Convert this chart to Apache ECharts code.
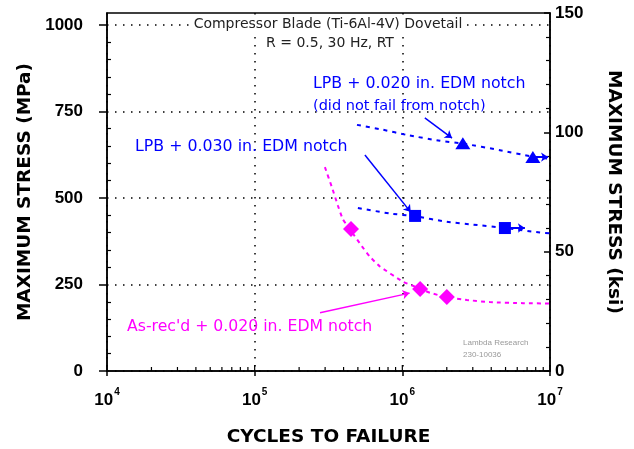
<!DOCTYPE html>
<html>
<head>
<meta charset="utf-8">
<script src="https://cdn.jsdelivr.net/npm/echarts@6/dist/echarts.min.js"></script>
<style>html,body{margin:0;padding:0;background:#fff}#c{width:634px;height:449px}</style>
</head>
<body>
<div id="c"></div>
<script>
// ---- data (cycles to failure, maximum stress in MPa) ----
const decades = [1e4, 1e5, 1e6, 1e7];
const mpaTicks = [0, 250, 500, 750, 1000];
const ksiTicks = [0, 50, 100, 150];

// As-rec'd + 0.020 in. EDM notch
const asrecCycles = [4.49e5, 1.32e6, 2.0e6];
const asrecMPa = [410, 237, 214];
const asrecFitCycles = [2.99e5, 3.34e5, 3.66e5, 3.96e5, 4.49e5, 5.33e5, 6.04e5, 7.05e5, 1.01e6, 1.32e6, 1.54e6, 2.0e6, 2.74e6, 3.92e6, 6.56e6, 1.0e7];
const asrecFitMPa = [589, 530, 478, 438, 405, 360, 330, 302, 258, 238, 226, 213, 205, 199, 196, 195];

// LPB + 0.030 in. EDM notch
const lpb30Cycles = [1.22e6, 4.95e6];
const lpb30MPa = [448, 413];
const lpb30FitCycles = [5.0e5, 8.24e5, 1.22e6, 2.0e6, 3.0e6, 4.95e6, 8.55e6, 1.0e7];
const lpb30FitMPa = [471, 455, 447, 431, 423, 413, 400, 398];

// LPB + 0.020 in. EDM notch (did not fail from notch)
const lpb20Cycles = [2.57e6, 7.66e6];
const lpb20MPa = [658, 618];
const lpb20FitCycles = [4.93e5, 7.39e5, 1.07e6, 1.80e6, 2.57e6, 4.58e6, 7.66e6, 1.0e7];
const lpb20FitMPa = [711, 697, 682, 665, 657, 638, 619, 613];

// run-out arrows (start and end cycles at the run-out stress)
const runoutFrom = [[4.95e6, 413], [7.66e6, 618]];
const runoutTo = [[6.76e6, 413], [9.7e6, 618]];

// leader lines from labels to points
const leaderFrom = [[1.42e6, 731], [5.58e5, 624], [2.77e5, 168]];
const leaderTo = [[2.17e6, 673], [1.14e6, 459], [1.12e6, 225]];

const KSI_TO_MPA = 6.894757;

// ---- helpers ----
const zip = (a, b) => a.map((v, i) => [v, b[i]]);
const BLUE = '#0000ff', MAG = '#ff00ff';
const ARIAL = '"Liberation Sans", Arial, sans-serif';
const WIDE = '"DejaVu Sans", Verdana, sans-serif';

const minorX = [];
decades.slice(0, -1).forEach(d => { for (let k = 2; k <= 9; k++) minorX.push(k * d); });
const xTickData = decades.map(v => [v, 0, 1]).concat(minorX.map(v => [v, 0, 0]));
const mpaMinor = [];
for (let v = 50; v < 1000; v += 50) if (v % 250 !== 0) mpaMinor.push(v);

const chart = echarts.init(document.getElementById('c'), null, {renderer: 'canvas'});
const axisLineStyle = {color: '#000', width: 1.5};

const option = {
  animation: false,
  backgroundColor: '#fff',
  grid: {left: 107, right: 84, top: 13, bottom: 78, show: true, borderColor: '#000', borderWidth: 1.5,
    containLabel: false, outerBoundsMode: 'none'},
  xAxis: {
    type: 'log', logBase: 10, min: decades[0], max: decades[decades.length - 1],
    name: 'CYCLES TO FAILURE', nameLocation: 'middle', nameGap: 57,
    nameTextStyle: {fontFamily: WIDE, fontWeight: 'bold', fontSize: 18.5, color: '#000'},
    axisLine: {lineStyle: axisLineStyle},
    axisTick: {show: true, inside: false, length: 5, lineStyle: axisLineStyle},
    minorTick: {show: false},
    axisLabel: {
      margin: 16,
      formatter: v => '{b|10}{s|' + Math.round(Math.log10(v)) + '}',
      rich: {
        b: {fontFamily: ARIAL, fontWeight: 'bold', fontSize: 17, color: '#000', lineHeight: 22, verticalAlign: 'bottom'},
        s: {fontFamily: ARIAL, fontWeight: 'bold', fontSize: 10, color: '#000', lineHeight: 12, verticalAlign: 'top', padding: [0, 0, 0, 1]}
      }
    },
    splitLine: {show: true, lineStyle: {color: '#000', type: [1.5, 6.5], width: 1.5}}
  },
  yAxis: [
    {
      type: 'value', position: 'left', min: 0, max: 150 * KSI_TO_MPA,
      name: 'MAXIMUM STRESS (MPa)', nameLocation: 'middle', nameGap: 67, nameRotate: 90,
      nameTextStyle: {fontFamily: WIDE, fontWeight: 'bold', fontSize: 18.5, color: '#000'},
      axisLine: {show: true, lineStyle: axisLineStyle},
      axisTick: {show: true, inside: false, length: 8, customValues: mpaTicks, lineStyle: axisLineStyle},
      axisLabel: {customValues: mpaTicks, formatter: v => String(v), margin: 24, fontFamily: ARIAL, fontWeight: 'bold', fontSize: 17, color: '#000'},
      splitLine: {show: true, lineStyle: {color: '#000', type: [1.5, 6.5], width: 1.5}}
    },
    {
      type: 'value', position: 'left', min: 0, max: 150 * KSI_TO_MPA,
      axisLine: {show: false},
      axisTick: {show: true, inside: true, length: 4, customValues: mpaMinor, lineStyle: {color: '#000', width: 1.2}},
      axisLabel: {show: false}, splitLine: {show: false}
    },
    {
      type: 'value', position: 'right', min: ksiTicks[0], max: ksiTicks[ksiTicks.length - 1], interval: 50,
      name: 'MAXIMUM STRESS (ksi)', nameLocation: 'middle', nameGap: 54, nameRotate: -90,
      nameTextStyle: {fontFamily: WIDE, fontWeight: 'bold', fontSize: 18.5, color: '#000'},
      axisLine: {show: true, lineStyle: axisLineStyle},
      axisTick: {show: true, inside: true, length: 6, lineStyle: axisLineStyle},
      minorTick: {show: true, splitNumber: 5, length: 4, lineStyle: {color: '#000', width: 1.2}},
      axisLabel: {margin: 5, formatter: v => String(v), fontFamily: ARIAL, fontWeight: 'bold', fontSize: 17, color: '#000'},
      splitLine: {show: false}
    }
  ],
  series: [
    {type: 'custom', name: 'xticks', clip: false, silent: true, data: xTickData, encode: {x: 0, y: 1},
      renderItem: (params, api) => {
        const p = api.coord([api.value(0), 0]);
        const len = api.value(2) ? 6 : 4;
        return {type: 'line', shape: {x1: p[0], y1: p[1], x2: p[0], y2: p[1] - len}, style: {stroke: '#000', lineWidth: 1.2}};
      }},
    {type: 'line', name: 'asrecFit', data: zip(asrecFitCycles, asrecFitMPa), showSymbol: false, smooth: 0.15,
      lineStyle: {color: MAG, width: 2, type: [4, 4]}, z: 3},
    {type: 'line', name: 'lpb30Fit', data: zip(lpb30FitCycles, lpb30FitMPa), showSymbol: false, smooth: 0.2,
      lineStyle: {color: BLUE, width: 2, type: [4, 5]}, z: 3},
    {type: 'line', name: 'lpb20Fit', data: zip(lpb20FitCycles, lpb20FitMPa), showSymbol: false, smooth: 0.2,
      lineStyle: {color: BLUE, width: 2, type: [4, 5]}, z: 3},
    {type: 'lines', coordinateSystem: 'cartesian2d', z: 4,
      data: runoutFrom.map((f, i) => ({coords: [f, runoutTo[i]]})),
      symbol: ['none', 'arrow'], symbolSize: 7,
      lineStyle: {color: BLUE, width: 2, opacity: 1, curveness: 0}},
    {type: 'lines', coordinateSystem: 'cartesian2d', z: 4,
      data: leaderFrom.map((f, i) => ({coords: [f, leaderTo[i]], lineStyle: {color: i === 2 ? MAG : BLUE}})),
      symbol: ['none', 'arrow'], symbolSize: 7,
      lineStyle: {width: 1.5, opacity: 1, curveness: 0}},
    {type: 'scatter', name: 'As-rec\'d', data: zip(asrecCycles, asrecMPa), symbol: 'diamond', symbolSize: 16,
      itemStyle: {color: MAG, opacity: 1}, z: 5},
    {type: 'scatter', name: 'LPB 0.030', data: zip(lpb30Cycles, lpb30MPa), symbol: 'rect', symbolSize: 12,
      itemStyle: {color: BLUE, opacity: 1}, z: 5},
    {type: 'scatter', name: 'LPB 0.020', data: zip(lpb20Cycles, lpb20MPa), symbol: 'triangle', symbolSize: [15, 12],
      itemStyle: {color: BLUE, opacity: 1}, z: 5}
  ],
  graphic: [
    {type: 'text', z: 100, x: 328, y: 24, style: {text: 'Compressor Blade (Ti-6Al-4V) Dovetail', align: 'center', verticalAlign: 'middle',
      font: '14px ' + WIDE, fill: '#222', backgroundColor: '#fff', padding: [1, 2]}},
    {type: 'text', z: 100, x: 330, y: 43, style: {text: 'R = 0.5, 30 Hz, RT', align: 'center', verticalAlign: 'middle',
      font: '14px ' + WIDE, fill: '#222'}},
    {type: 'text', z: 100, x: 313, y: 84, style: {text: 'LPB + 0.020 in. EDM notch', align: 'left', verticalAlign: 'middle',
      font: '15.8px ' + WIDE, fill: BLUE}},
    {type: 'text', z: 100, x: 313, y: 106, style: {text: '(did not fail from notch)', align: 'left', verticalAlign: 'middle',
      font: '14.5px ' + WIDE, fill: BLUE}},
    {type: 'text', z: 100, x: 135, y: 147, style: {text: 'LPB + 0.030 in. EDM notch', align: 'left', verticalAlign: 'middle',
      font: '15.8px ' + WIDE, fill: BLUE}},
    {type: 'text', z: 100, x: 127, y: 327, style: {text: 'As-rec\'d + 0.020 in. EDM notch', align: 'left', verticalAlign: 'middle',
      font: '15.7px ' + WIDE, fill: MAG}},
    {type: 'text', z: 100, x: 463, y: 343, style: {text: 'Lambda Research', align: 'left', verticalAlign: 'middle',
      font: '8px ' + ARIAL, fill: '#999'}},
    {type: 'text', z: 100, x: 463, y: 355, style: {text: '230-10036', align: 'left', verticalAlign: 'middle',
      font: '8px ' + ARIAL, fill: '#999'}}
  ]
};
chart.setOption(option);
</script>
</body>
</html>
